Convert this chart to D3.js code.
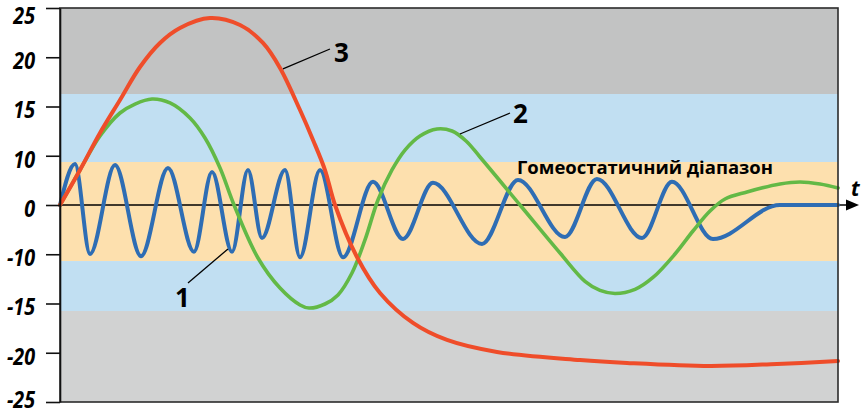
<!DOCTYPE html>
<html><head><meta charset="utf-8">
<script src="https://cdn.jsdelivr.net/npm/d3@7"></script>
<style>body{margin:0;background:#fff}svg{display:block}</style>
</head><body><svg id="c" width="861" height="415"></svg>
<script>
// ---- data ----
const yTickValues = [25, 20, 15, 10, 0, -10, -15, -20, -25];
const yTickLabels = ["25", "20", "15", "10", "0", "-10", "-15", "-20", "-25"];
const bandEdges = [25, 16.27, 8.73, -10.69, -15.76, -25];
const bandNames = ["critical-high", "adaptive-high", "homeostatic", "adaptive-low", "critical-low"];

// curve 1 (fast oscillation)
const t1 = [0, 1.93, 3.86, 7.07, 10.41, 13.88, 17.22, 19.54, 22.11, 24.16, 25.96, 28.92, 30.85, 33.42, 36.38, 40.23, 44.09, 47.94, 54.24, 58.87, 64.91, 69.02, 74.81, 78.66, 83.93, 92.54, 100];
const v1 = [0, 8.3, -9.95, 8.1, -10.2, 7.5, -9.5, 6.7, -9.5, 7.1, -6.7, 7.1, -10.3, 7.1, -10.3, 4.7, -6.9, 4.5, -7.9, 5.1, -6.5, 5.3, -6.7, 4.7, -6.9, 0, 0];

// curve 2 (slow oscillation)
const t2 = [0, 2.57, 5.14, 7.71, 9.64, 11.83, 14.14, 16.71, 18.64, 20.57, 22.37, 25.45, 28.28, 30.85, 32.01, 34.06, 35.73, 37.53, 39.2, 40.87, 42.67, 44.34, 46.27, 48.46, 50.39, 52.19, 53.98, 59.13, 64.27, 67.48, 69.41, 71.34, 73.91, 76.22, 79.05, 81.36, 83.55, 85.48, 88.3, 92.54, 95.12, 97.69, 100];
const v2 = [0, 7.11, 12.01, 14.34, 15.25, 15.76, 15.36, 13.83, 11.8, 7.51, 0, -10.38, -13.43, -15.15, -15.46, -15.05, -14.13, -11.9, -7.1, 1.02, 7.11, 10.58, 12.01, 12.72, 12.51, 11.5, 9.75, 0, -9.75, -12.75, -13.67, -13.98, -13.57, -12.36, -9.95, -5.28, -1.22, 1.22, 2.64, 4.26, 4.67, 4.26, 3.45];

// curve 3 (large excursion)
const t3 = [0, 2.57, 5.14, 7.71, 10.28, 12.85, 15.42, 19.28, 23.14, 26.09, 28.28, 30.85, 32.52, 34.06, 35.35, 38.17, 41.13, 45.37, 49.74, 56.17, 66.84, 72.88, 83.55, 92.16, 100];
const v3 = [0, 7.11, 12.31, 15.66, 19.01, 21.45, 22.97, 23.98, 23.27, 21.45, 18.91, 14.64, 11.6, 7.1, 0, -10.28, -13.93, -16.97, -18.7, -19.92, -20.74, -21.04, -21.35, -21.14, -20.84];

const seriesLabels = ["1", "2", "3"];
const bandLabel = "Гомеостатичний діапазон";
const xAxisLabel = "t";

// ---- layout ----
const svg = d3.select("#c");
const x = d3.scaleLinear().domain([0, 100]).range([60, 838]);
const y = d3.scaleLinear()
  .domain([-25, -20, -15, -10, 0, 10, 15, 20, 25])
  .range([402, 352.75, 303.5, 254.25, 205, 155.75, 106.5, 57.25, 8]);

const bandColors = ["#c2c3c3", "#c1dff2", "#fde0ae", "#c1dff2", "#d1d2d2"];
const bands = bandNames.map((n, i) => ({name: n, top: bandEdges[i], bottom: bandEdges[i + 1], color: bandColors[i]}));

svg.append("g").selectAll("rect").data(bands).join("rect")
  .attr("x", x(0)).attr("width", x(100) - x(0))
  .attr("y", d => y(d.top)).attr("height", d => y(d.bottom) - y(d.top))
  .attr("fill", d => d.color);

// x axis with arrow
svg.append("line")
  .attr("x1", x(0)).attr("x2", x(100) + 12)
  .attr("y1", y(0)).attr("y2", y(0))
  .attr("stroke", "#000").attr("stroke-width", 1.5);
svg.append("path")
  .attr("d", `M${x(100) + 8},${y(0) - 5.5} L${x(100) + 21},${y(0)} L${x(100) + 8},${y(0) + 5.5} Z`)
  .attr("fill", "#000");
svg.append("text").text(xAxisLabel)
  .attr("x", x(100) + 13).attr("y", y(0) - 9)
  .attr("font-family", "'Open Sans', sans-serif").attr("font-weight", 700).attr("font-style", "italic")
  .attr("font-size", 21).attr("fill", "#000");

// curves
const lineMono = d3.line().x(d => x(d[0])).y(d => y(d[1])).curve(d3.curveMonotoneX);
const lineSmooth = d3.line().x(d => x(d[0])).y(d => y(d[1])).curve(d3.curveCatmullRom.alpha(0.5));
const series = [
  {t: t1, v: v1, color: "#2e6db4", w: 4, gen: lineMono},
  {t: t2, v: v2, color: "#63b946", w: 3.6, gen: lineSmooth},
  {t: t3, v: v3, color: "#ef4d2a", w: 4, gen: lineSmooth}
];
svg.append("g").selectAll("path").data(series).join("path")
  .attr("d", s => s.gen(s.t.map((t, i) => [t, s.v[i]])))
  .attr("fill", "none").attr("stroke", s => s.color).attr("stroke-width", s => s.w)
  .attr("stroke-linejoin", "round").attr("stroke-linecap", "round");

// frame
svg.append("rect")
  .attr("x", x(0)).attr("y", y(25)).attr("width", x(100) - x(0)).attr("height", y(-25) - y(25))
  .attr("fill", "none").attr("stroke", "#2b2b2b").attr("stroke-width", 1.6);

// y axis
const sx = 0.84;
const yAxis = d3.axisLeft(y).tickValues(yTickValues)
  .tickFormat((d, i) => yTickLabels[i]).tickSize(14).tickPadding(11).tickSizeOuter(0);
const gy = svg.append("g").attr("transform", `translate(${x(0)},0)`).call(yAxis);
gy.select(".domain").attr("stroke", "#111").attr("stroke-width", 1.6);
gy.selectAll(".tick line").attr("stroke", "#111").attr("stroke-width", 1.6);
gy.selectAll(".tick text")
  .attr("x", -25 / sx)
  .attr("y", d => d === 25 ? 7 : (d === -25 ? -3 : 3))
  .attr("transform", `scale(${sx},1)`)
  .attr("font-family", "'Open Sans', sans-serif").attr("font-weight", 700).attr("font-style", "italic")
  .attr("font-size", 23.5).attr("fill", "#000").attr("dy", "0.36em");

// annotations (leaders in data coordinates)
const leaders = [
  {label: seriesLabels[0], from: [21.59, -8.93], to: [16.45, -12.92], dx: -13, dy: 24},
  {label: seriesLabels[1], from: [51.41, 12.21], to: [57.84, 14.34], dx: 3, dy: 10},
  {label: seriesLabels[2], from: [28.66, 18.81], to: [34.7, 20.84], dx: 4, dy: 13}
];
const ga = svg.append("g");
ga.selectAll("line").data(leaders).join("line")
  .attr("x1", d => x(d.from[0])).attr("y1", d => y(d.from[1]))
  .attr("x2", d => x(d.to[0])).attr("y2", d => y(d.to[1]))
  .attr("stroke", "#000").attr("stroke-width", 1.3);
ga.selectAll("text").data(leaders).join("text")
  .text(d => d.label)
  .attr("x", d => x(d.to[0]) + d.dx).attr("y", d => y(d.to[1]) + d.dy)
  .attr("font-family", "'Open Sans', sans-serif").attr("font-weight", 700)
  .attr("font-size", 26).attr("fill", "#000");

svg.append("text").text(bandLabel)
  .attr("x", 517).attr("y", 174)
  .attr("textLength", 256).attr("lengthAdjust", "spacingAndGlyphs")
  .attr("font-family", "'Open Sans', sans-serif").attr("font-weight", 700)
  .attr("font-size", 18).attr("fill", "#000");
</script>
</body></html>
